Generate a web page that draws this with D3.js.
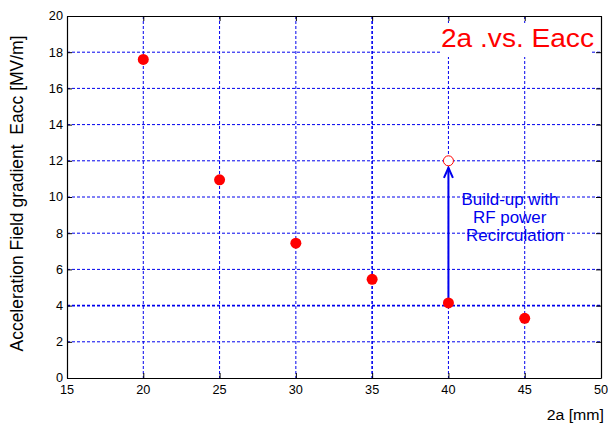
<!DOCTYPE html>
<html>
<head>
<meta charset="utf-8">
<script src="https://cdn.jsdelivr.net/npm/d3@7"></script>
<style>
  html, body { margin: 0; padding: 0; background: #fff; }
  svg { display: block; font-family: "Liberation Sans", Arial, sans-serif; }
  text { white-space: pre; }
</style>
</head>
<body>
<svg id="chart" width="608" height="423"></svg>
<script>
// Aperture (2a, mm) and measured accelerating gradient (MV/m)
const apertures = [20, 25, 30, 35, 40, 45];
const gradients = [17.6, 10.95, 7.45, 5.45, 4.15, 3.3];

// Gradient reached with RF power recirculation
const boostedAperture = [40];
const boostedGradient = [12];

const xTicks = [15, 20, 25, 30, 35, 40, 45, 50];
const yTicks = [0, 2, 4, 6, 8, 10, 12, 14, 16, 18, 20];
const strongXGrid = [35];
const strongYGrid = [4];

const titleText = "2a .vs. Eacc";
const noteLines = ["Build-up with", "RF power", "Recirculation"];
const xLabel = "2a [mm]";
const yLabel = "Acceleration Field gradient  Eacc [MV/m]";

(function draw() {
  const svg = d3.select("#chart");
  const W = 608, H = 423;
  const mLeft = 67, mRight = 601, mTop = 16, mBottom = 378;
  const sx = 1.06; // horizontal glyph stretch

  const x = d3.scaleLinear().domain([15, 50]).range([mLeft, mRight]);
  const y = d3.scaleLinear().domain([0, 20]).range([mBottom, mTop]);

  svg.append("rect").attr("width", W).attr("height", H).attr("fill", "#fff");

  // grid
  const grid = svg.append("g");
  grid.selectAll("line.gx").data(xTicks.slice(1, -1)).join("line")
    .attr("x1", d => x(d)).attr("x2", d => x(d))
    .attr("y1", mTop).attr("y2", mBottom)
    .attr("stroke", "#0000ee")
    .attr("stroke-width", d => strongXGrid.includes(d) ? 1.6 : 1)
    .attr("stroke-dasharray", "3,2");
  grid.selectAll("line.gy").data(yTicks.slice(1, -1)).join("line")
    .attr("x1", mLeft).attr("x2", mRight)
    .attr("y1", d => y(d)).attr("y2", d => y(d))
    .attr("stroke", "#0000ee")
    .attr("stroke-width", d => strongYGrid.includes(d) ? 1.6 : 1)
    .attr("stroke-dasharray", "3,2");

  // axes with inward ticks on all four sides
  const axB = d3.axisBottom(x).tickValues(xTicks).tickSizeInner(-5).tickSizeOuter(0).tickFormat("");
  const axT = d3.axisTop(x).tickValues(xTicks).tickSizeInner(-5).tickSizeOuter(0).tickFormat("");
  const axL = d3.axisLeft(y).tickValues(yTicks).tickSizeInner(-5).tickSizeOuter(0).tickFormat("");
  const axR = d3.axisRight(y).tickValues(yTicks).tickSizeInner(-5).tickSizeOuter(0).tickFormat("");

  function style(g) {
    g.selectAll("path").attr("stroke", "#000").attr("stroke-width", 1.2);
    g.selectAll("line").attr("stroke", "#000");
  }
  svg.append("g").attr("transform", `translate(0,${mBottom})`).call(axB).call(style);
  svg.append("g").attr("transform", `translate(0,${mTop})`).call(axT).call(style);
  svg.append("g").attr("transform", `translate(${mLeft},0)`).call(axL).call(style);
  svg.append("g").attr("transform", `translate(${mRight},0)`).call(axR).call(style);

  // tick labels
  const lab = svg.append("g").attr("fill", "#000").attr("font-size", 12);
  lab.selectAll("text.xt").data(xTicks).join("text")
    .attr("transform", d => `translate(${x(d)},394) scale(${sx},1)`)
    .attr("text-anchor", "middle").text(d => d);
  lab.selectAll("text.yt").data(yTicks).join("text")
    .attr("transform", d => `translate(63,${y(d) + 4.3}) scale(${sx},1)`)
    .attr("text-anchor", "end").text(d => d);

  // axis titles
  svg.append("text")
    .attr("transform", `translate(604,420) scale(${sx},1)`)
    .attr("text-anchor", "end").attr("font-size", 15).text(xLabel);
  svg.append("text")
    .attr("xml:space", "preserve")
    .attr("transform", `translate(23,${(35 + 352) / 2}) rotate(-90)`)
    .attr("text-anchor", "middle").attr("font-size", 17.5).text(yLabel);

  // title box
  svg.append("rect").attr("x", 440).attr("y", 23).attr("width", 152).attr("height", 34).attr("fill", "#fff");
  svg.append("text")
    .attr("transform", `translate(441,47) scale(${sx},1)`)
    .attr("font-size", 26.5).attr("fill", "#ff0000").text(titleText);

  // arrow from measured to boosted gradient
  const ax0 = x(boostedAperture[0]);
  const yFrom = y(gradients[apertures.indexOf(boostedAperture[0])]);
  const yTip = y(boostedGradient[0]) + 7;
  svg.append("line").attr("x1", ax0).attr("x2", ax0).attr("y1", yFrom).attr("y2", yTip)
    .attr("stroke", "#0000ee").attr("stroke-width", 2);
  svg.append("path")
    .attr("d", `M${ax0 - 4.5},${yTip + 10}L${ax0},${yTip}L${ax0 + 4.5},${yTip + 10}`)
    .attr("fill", "none").attr("stroke", "#0000ee").attr("stroke-width", 2);

  // note
  const noteX = [510, 509.7, 515];
  const noteY = [205, 223, 241];
  svg.append("g").attr("fill", "#0000ee").attr("font-size", 16)
    .selectAll("text").data(noteLines).join("text")
    .attr("transform", (d, i) => `translate(${noteX[i]},${noteY[i]}) scale(${sx},1)`)
    .attr("text-anchor", "middle").text(d => d);

  // measured points
  svg.append("g").selectAll("circle").data(apertures).join("circle")
    .attr("cx", d => x(d)).attr("cy", (d, i) => y(gradients[i])).attr("r", 5.5)
    .attr("fill", "#ff0000");

  // boosted point
  svg.append("g").selectAll("circle").data(boostedAperture).join("circle")
    .attr("cx", d => x(d)).attr("cy", (d, i) => y(boostedGradient[i])).attr("r", 5)
    .attr("fill", "#fff").attr("stroke", "#ff0000").attr("stroke-width", 1);
})();
</script>
</body>
</html>
